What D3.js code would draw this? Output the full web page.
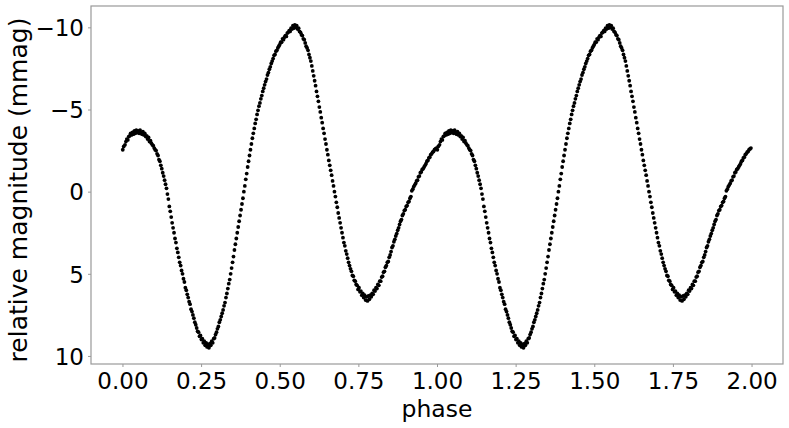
<!DOCTYPE html>
<html>
<head>
<meta charset="utf-8">
<script src="https://cdn.jsdelivr.net/npm/d3@7"></script>
<style>
html,body{margin:0;padding:0;background:#fff;}
svg{display:block;}
text{font-family:"DejaVu Sans",sans-serif;fill:#000;}
</style>
</head>
<body>
<svg id="chart" width="789" height="428"></svg>
<script>
// phase-folded observations: [phase, relative magnitude (mmag)]
const observations = [
[0.001,-2.55],[0.004,-2.75],[0.008,-2.85],[0.011,-3.05],[0.014,-3.2],[0.017,-3.15],[0.020,-3.35],[0.023,-3.4],[0.026,-3.55],[0.029,-3.45],
[0.032,-3.6],[0.035,-3.5],[0.038,-3.7],[0.041,-3.55],[0.044,-3.75],[0.047,-3.6],[0.050,-3.7],[0.053,-3.55],[0.056,-3.75],[0.059,-3.6],
[0.062,-3.5],[0.065,-3.65],[0.068,-3.45],[0.071,-3.55],[0.074,-3.35],[0.077,-3.4],[0.080,-3.2],[0.083,-3.3],[0.086,-3.05],[0.089,-3.1],
[0.092,-2.95],[0.095,-2.85],[0.098,-2.8],[0.101,-2.65],[0.104,-2.55],[0.107,-2.5],[0.110,-2.3],[0.113,-2.2],[0.116,-1.95],[0.119,-1.85],
[0.122,-1.6],[0.125,-1.4],[0.128,-1.15],[0.131,-0.95],[0.134,-0.7],[0.137,-0.45],[0.140,-0.2],[0.143,0.15],[0.146,0.45],[0.149,0.9],
[0.152,1.2],[0.155,1.55],[0.158,1.9],[0.161,2.2],[0.164,2.5],[0.167,2.85],[0.170,3.1],[0.173,3.45],[0.176,3.7],[0.179,4.0],
[0.182,4.3],[0.185,4.5],[0.188,4.8],[0.191,5.0],[0.194,5.3],[0.197,5.5],[0.200,5.85],[0.203,6.0],[0.206,6.25],[0.209,6.45],
[0.212,6.7],[0.215,6.85],[0.218,7.15],[0.221,7.3],[0.224,7.5],[0.227,7.7],[0.230,7.95],[0.233,8.1],[0.236,8.3],[0.239,8.5],
[0.242,8.55],[0.245,8.8],[0.248,8.75],[0.251,9.0],[0.254,8.95],[0.257,9.2],[0.260,9.1],[0.263,9.35],[0.266,9.2],[0.269,9.45],
[0.272,9.3],[0.275,9.5],[0.278,9.25],[0.281,9.35],[0.284,9.1],[0.287,9.2],[0.290,8.95],[0.293,8.9],[0.296,8.7],[0.299,8.55],
[0.302,8.35],[0.305,8.2],[0.308,7.95],[0.311,7.8],[0.314,7.6],[0.317,7.4],[0.320,7.2],[0.323,6.95],[0.326,6.75],[0.329,6.45],
[0.332,6.2],[0.335,5.9],[0.338,5.6],[0.341,5.35],[0.344,5.0],[0.347,4.65],[0.350,4.3],[0.353,3.95],[0.356,3.55],[0.359,3.2],
[0.362,2.85],[0.365,2.5],[0.368,2.15],[0.371,1.8],[0.374,1.45],[0.377,1.1],[0.380,0.75],[0.383,0.4],[0.386,0.0],[0.389,-0.35],
[0.392,-0.75],[0.395,-1.1],[0.398,-1.5],[0.401,-1.85],[0.404,-2.2],[0.407,-2.55],[0.410,-2.9],[0.413,-3.25],[0.416,-3.55],[0.419,-3.85],
[0.422,-4.15],[0.425,-4.4],[0.428,-4.7],[0.431,-4.95],[0.434,-5.2],[0.437,-5.4],[0.440,-5.65],[0.443,-5.85],[0.446,-6.1],[0.449,-6.3],
[0.452,-6.5],[0.455,-6.7],[0.458,-6.85],[0.461,-7.1],[0.464,-7.25],[0.467,-7.45],[0.470,-7.6],[0.473,-7.8],[0.476,-7.95],[0.479,-8.1],
[0.482,-8.3],[0.485,-8.35],[0.488,-8.55],[0.491,-8.6],[0.494,-8.75],[0.497,-8.85],[0.500,-8.95],[0.503,-9.1],[0.506,-9.1],[0.509,-9.3],
[0.512,-9.25],[0.515,-9.4],[0.518,-9.5],[0.521,-9.45],[0.524,-9.65],[0.527,-9.7],[0.530,-9.8],[0.533,-9.75],[0.536,-9.95],[0.539,-9.9],
[0.542,-10.1],[0.545,-9.95],[0.548,-10.15],[0.551,-10.0],[0.554,-10.1],[0.557,-9.9],[0.560,-9.95],[0.563,-9.75],[0.566,-9.7],[0.569,-9.55],
[0.572,-9.5],[0.575,-9.3],[0.578,-9.25],[0.581,-9.05],[0.584,-8.85],[0.587,-8.75],[0.590,-8.6],[0.593,-8.35],[0.596,-8.15],[0.599,-7.95],
[0.602,-7.65],[0.605,-7.35],[0.608,-7.05],[0.611,-6.75],[0.614,-6.45],[0.617,-6.1],[0.620,-5.8],[0.623,-5.5],[0.626,-5.15],[0.629,-4.85],
[0.632,-4.5],[0.635,-4.2],[0.638,-3.85],[0.641,-3.55],[0.644,-3.2],[0.647,-2.9],[0.650,-2.55],[0.653,-2.25],[0.656,-1.9],[0.659,-1.6],
[0.662,-1.3],[0.665,-1.0],[0.668,-0.65],[0.671,-0.35],[0.674,0.0],[0.677,0.3],[0.680,0.65],[0.683,0.95],[0.686,1.3],[0.689,1.6],
[0.692,1.9],[0.695,2.2],[0.698,2.5],[0.701,2.8],[0.704,3.1],[0.707,3.3],[0.710,3.6],[0.713,3.8],[0.716,4.05],[0.719,4.3],
[0.722,4.5],[0.725,4.7],[0.728,4.85],[0.731,5.1],[0.734,5.15],[0.737,5.4],[0.740,5.45],[0.743,5.65],[0.746,5.7],[0.749,5.95],
[0.752,5.85],[0.755,6.1],[0.758,6.05],[0.761,6.3],[0.764,6.2],[0.767,6.45],[0.770,6.3],[0.773,6.6],[0.776,6.4],[0.779,6.65],
[0.782,6.35],[0.785,6.55],[0.788,6.3],[0.791,6.4],[0.794,6.2],[0.797,6.25],[0.800,6.0],[0.803,6.05],[0.806,5.85],[0.809,5.9],
[0.812,5.65],[0.815,5.7],[0.818,5.45],[0.821,5.45],[0.824,5.2],[0.827,5.15],[0.830,4.9],[0.833,4.85],[0.836,4.6],[0.839,4.5],
[0.842,4.3],[0.845,4.25],[0.848,4.0],[0.851,3.85],[0.854,3.65],[0.857,3.4],[0.860,3.3],[0.863,3.05],[0.866,2.9],[0.869,2.7],
[0.872,2.55],[0.875,2.35],[0.878,2.2],[0.881,2.0],[0.884,1.8],[0.887,1.7],[0.890,1.45],[0.893,1.35],[0.896,1.15],[0.899,1.1],
[0.902,0.9],[0.905,0.85],[0.908,0.65],[0.911,0.6],[0.914,0.4],[0.917,0.3],[0.920,-0.05],[0.923,-0.15],[0.926,-0.3],[0.929,-0.4],
[0.932,-0.5],[0.935,-0.65],[0.938,-0.7],[0.941,-0.9],[0.944,-0.95],[0.947,-1.15],[0.950,-1.2],[0.953,-1.35],[0.956,-1.4],[0.959,-1.5],
[0.962,-1.6],[0.965,-1.7],[0.968,-1.85],[0.971,-1.9],[0.974,-2.05],[0.977,-2.1],[0.980,-2.25],[0.983,-2.3],[0.986,-2.4],[0.989,-2.45],
[0.992,-2.55],[0.995,-2.6],[0.998,-2.65]
];
// the folded curve is shown over two cycles
const cycles = [0, 1];
const xTicks = [0, 0.25, 0.5, 0.75, 1.0, 1.25, 1.5, 1.75, 2.0];
const yTicks = [-10, -5, 0, 5, 10];
const xDomain = [-0.1, 2.1];
const yDomain = [-11.3, 10.49];
const xLabel = "phase";
const yLabel = "relative magnitude (mmag)";

(function () {
const svg = d3.select("#chart");
const mLeft = 91, mRight = 783, mTop = 6, mBottom = 364;
const x = d3.scaleLinear().domain(xDomain).range([mLeft, mRight]);
const y = d3.scaleLinear().domain(yDomain).range([mTop, mBottom]);
const axisColor = "#999";
const tickFont = 23;

const points = [];
cycles.forEach(c => observations.forEach(d => points.push([d[0] + c, d[1]])));

svg.append("g").selectAll("circle").data(points).join("circle")
  .attr("cx", d => x(d[0])).attr("cy", d => y(d[1]))
  .attr("r", 1.9).attr("fill", "#000");

const fmtY = v => (v < 0 ? "\u2212" + Math.abs(v) : String(v));

const xAxis = svg.append("g").attr("transform", `translate(0,${mBottom})`)
  .call(d3.axisBottom(x).tickValues(xTicks).tickFormat(d3.format(".2f")).tickSizeInner(3).tickSizeOuter(0).tickPadding(6));
const yAxis = svg.append("g").attr("transform", `translate(${mLeft},0)`)
  .call(d3.axisLeft(y).tickValues(yTicks).tickFormat(fmtY).tickSizeInner(3).tickSizeOuter(0).tickPadding(4));
[xAxis, yAxis].forEach(a => {
  a.select(".domain").remove();
  a.selectAll(".tick line").attr("stroke", axisColor).attr("stroke-width", 1);
  a.selectAll(".tick text").style("font-size", tickFont + "px").style("font-family", "'DejaVu Sans'").attr("fill", "#000");
});
yAxis.selectAll(".tick text").attr("dy", "0.36em");

svg.append("rect").attr("x", mLeft).attr("y", mTop)
  .attr("width", mRight - mLeft).attr("height", mBottom - mTop)
  .attr("fill", "none").attr("stroke", axisColor).attr("stroke-width", 1.2);

svg.append("text").attr("x", (mLeft + mRight) / 2).attr("y", 417)
  .attr("text-anchor", "middle").style("font-size", "23.5px").text(xLabel);
svg.append("text").attr("transform", `translate(27,190) rotate(-90)`)
  .attr("text-anchor", "middle").style("font-size", "25px").text(yLabel);
})();
</script>
</body>
</html>
